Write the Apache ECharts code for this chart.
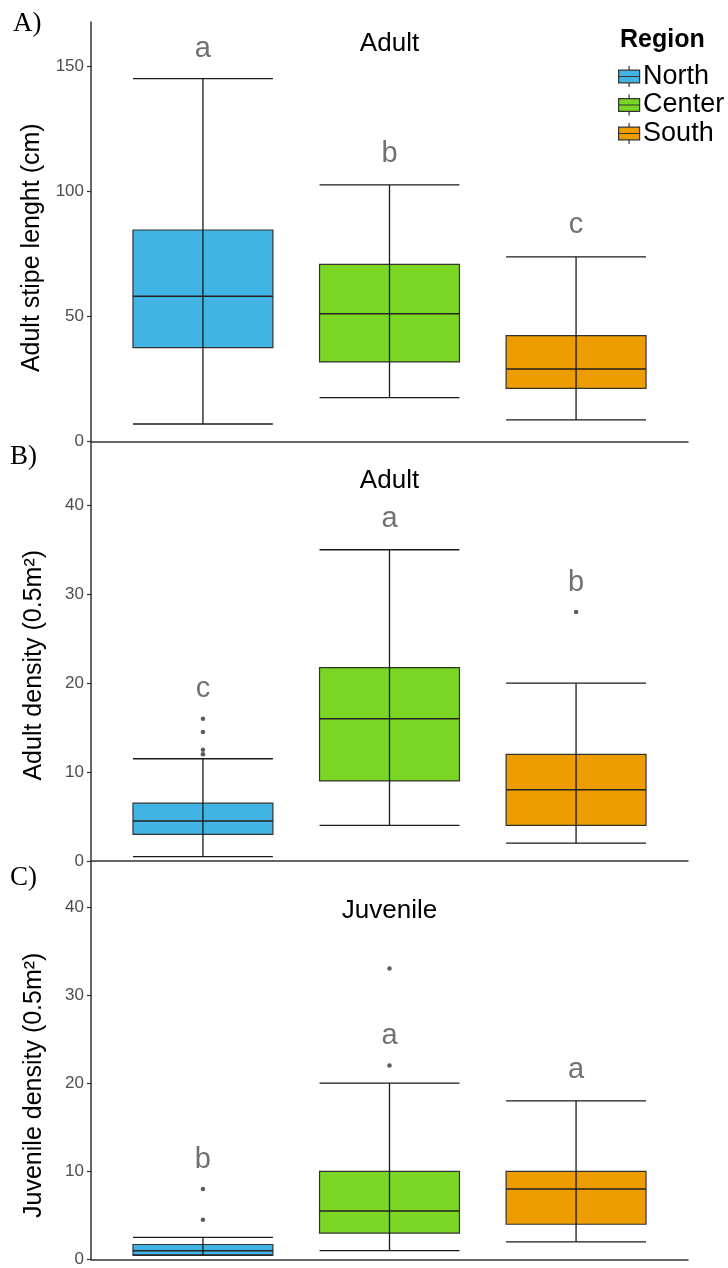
<!DOCTYPE html>
<html>
<head>
<meta charset="utf-8">
<script src="https://cdn.jsdelivr.net/npm/echarts@6/dist/echarts.min.js"></script>
<style>
html,body{margin:0;padding:0;background:#fff;}
#chart{width:728px;height:1268px;}
</style>
</head>
<body>
<div id="chart"></div>
<script>
// ---------- DATA ----------
const regions = ['North', 'Center', 'South'];
const regionX = [1, 2, 3];

// Panel A: Adult stipe length (cm)  [min, Q1, median, Q3, max]
const stipeNorth  = [7, 37.5, 58, 84.5, 145];
const stipeCenter = [17.5, 31.8, 51, 70.8, 102.5];
const stipeSouth  = [8.6, 21.2, 29, 42.3, 73.8];
const stipeOutNorth = [];
const stipeOutCenter = [];
const stipeOutSouth = [];
const stipeLetters = ['a', 'b', 'c'];
const stipeLetterY = [157, 115, 86.5];
const stipeTicks = [0, 50, 100, 150];

// Panel B: Adult density (0.5 m2)
const adultNorth  = [0.5, 3, 4.5, 6.5, 11.5];
const adultCenter = [4, 9, 16, 21.75, 35];
const adultSouth  = [2, 4, 8, 12, 20];
const adultOutNorth = [12, 12.5, 14.5, 16];
const adultOutCenter = [];
const adultOutSouth = [28];
const adultLetters = ['c', 'a', 'b'];
const adultLetterY = [19.3, 38.5, 31.3];
const adultTicks = [0, 10, 20, 30, 40];

// Panel C: Juvenile density (0.5 m2)
const juvNorth  = [0.5, 0.5, 1, 1.7, 2.5];
const juvCenter = [1, 3, 5.5, 10, 20];
const juvSouth  = [2, 4, 8, 10, 18];
const juvOutNorth = [4.5, 8];
const juvOutCenter = [22, 33];
const juvOutSouth = [];
const juvLetters = ['b', 'a', 'a'];
const juvLetterY = [11.3, 25.3, 21.5];
const juvTicks = [0, 10, 20, 30, 40];

// ---------- STYLE / LAYOUT ----------
const FONT = '"Liberation Sans", Arial, Helvetica, sans-serif';
const regionColors = ['#41B4E4', '#7AD622', '#EE9D00'];
const halfBox = 0.375;

const panels = [
  { tag: 'A)', title: 'Adult', yName: 'Adult stipe lenght (cm)', top: 22, height: 419.5, ymax: 167.6,
    boxes: [stipeNorth, stipeCenter, stipeSouth], outs: [stipeOutNorth, stipeOutCenter, stipeOutSouth],
    letters: stipeLetters, letterY: stipeLetterY, ticks: stipeTicks,
    tagTop: 10, titleTop: 31, namePad: [0, 32, 0, 0] },
  { tag: 'B)', title: 'Adult', yName: 'Adult density (0.5m\u00B2)', top: 441.5, height: 419.5, ymax: 47.17,
    boxes: [adultNorth, adultCenter, adultSouth], outs: [adultOutNorth, adultOutCenter, adultOutSouth],
    letters: adultLetters, letterY: adultLetterY, ticks: adultTicks,
    tagTop: 443, titleTop: 467.5, namePad: [0, 28, 0, 0] },
  { tag: 'C)', title: 'Juvenile', yName: 'Juvenile density (0.5m\u00B2)', top: 861, height: 402.5, ymax: 45.2,
    boxes: [juvNorth, juvCenter, juvSouth], outs: [juvOutNorth, juvOutCenter, juvOutSouth],
    letters: juvLetters, letterY: juvLetterY, ticks: juvTicks,
    tagTop: 864, titleTop: 898, namePad: [0, 50, 0, 0] }
];

function renderBox(params, api) {
  const x = api.value(0);
  const lo = api.value(1), q1 = api.value(2), md = api.value(3), q3 = api.value(4), hi = api.value(5);
  const tl = api.coord([x - halfBox, q3]);
  const br = api.coord([x + halfBox, q1]);
  const mL = api.coord([x - halfBox, md]);
  const mR = api.coord([x + halfBox, md]);
  const loL = api.coord([x - halfBox, lo]);
  const loR = api.coord([x + halfBox, lo]);
  const hiL = api.coord([x - halfBox, hi]);
  const hiR = api.coord([x + halfBox, hi]);
  const cLo = api.coord([x, lo]);
  const cHi = api.coord([x, hi]);
  const lineStyle = { stroke: '#1a1a1a', lineWidth: 1.3 };
  return {
    type: 'group',
    children: [
      { type: 'rect', shape: { x: tl[0], y: tl[1], width: br[0] - tl[0], height: br[1] - tl[1] },
        style: { fill: api.visual('color'), stroke: '#333', lineWidth: 1.2 } },
      { type: 'line', shape: { x1: mL[0], y1: mL[1], x2: mR[0], y2: mR[1] }, style: { stroke: '#222', lineWidth: 1.5 } },
      { type: 'line', shape: { x1: cLo[0], y1: cLo[1], x2: cHi[0], y2: cHi[1] }, style: lineStyle },
      { type: 'line', shape: { x1: loL[0], y1: loL[1], x2: loR[0], y2: loR[1] }, style: lineStyle },
      { type: 'line', shape: { x1: hiL[0], y1: hiL[1], x2: hiR[0], y2: hiR[1] }, style: lineStyle }
    ]
  };
}

const grid = [], xAxis = [], yAxis = [], series = [], titles = [];

panels.forEach(function (p, idx) {
  grid.push({ left: 91, right: 40, top: p.top, height: p.height, containLabel: false });
  xAxis.push({
    gridIndex: idx, type: 'value', min: 0.4, max: 3.6,
    axisLine: { show: true, onZero: false, lineStyle: { color: '#333', width: 1.5 } },
    axisTick: { show: false }, axisLabel: { show: false }, splitLine: { show: false }
  });
  yAxis.push({
    gridIndex: idx, type: 'value', min: 0, max: p.ymax,
    axisLine: { show: true, onZero: false, lineStyle: { color: '#333', width: 1.5 } },
    axisTick: { show: true, length: 4, lineStyle: { color: '#333', width: 1.2 }, customValues: p.ticks },
    axisLabel: { customValues: p.ticks, color: '#4d4d4d', fontSize: 17, margin: 7, fontFamily: FONT },
    splitLine: { show: false },
    name: p.yName, nameLocation: 'middle', nameGap: 44,
    nameTextStyle: { fontSize: 25, color: '#000', fontFamily: FONT, padding: p.namePad }
  });

  regions.forEach(function (r, i) {
    series.push({
      type: 'custom', name: r, xAxisIndex: idx, yAxisIndex: idx,
      itemStyle: { color: regionColors[i] },
      encode: { x: 0, y: [1, 2, 3, 4, 5] },
      renderItem: renderBox,
      data: [[regionX[i]].concat(p.boxes[i])],
      silent: true, z: 2
    });
  });
  regions.forEach(function (r, i) {
    if (p.outs[i].length) {
      series.push({
        type: 'scatter', name: r, xAxisIndex: idx, yAxisIndex: idx,
        symbolSize: 4.5, itemStyle: { color: '#333' },
        data: p.outs[i].map(function (v) { return [regionX[i], v]; }),
        silent: true, z: 3
      });
    }
  });
  series.push({
    type: 'scatter', xAxisIndex: idx, yAxisIndex: idx, symbolSize: 0,
    data: p.letterY.map(function (v, i) { return [regionX[i], v]; }),
    label: {
      show: true, position: 'inside', fontSize: 29, color: '#4d4d4d', fontFamily: FONT,
      formatter: function (prm) { return p.letters[prm.dataIndex]; }
    },
    silent: true, z: 4
  });

  titles.push({ text: p.tag, left: idx === 0 ? 13 : 10, top: p.tagTop, padding: 0,
    textStyle: { fontFamily: '"Liberation Serif", "Times New Roman", serif', fontWeight: 'normal', fontSize: 27, color: '#000' } });
  titles.push({ text: p.title, left: 389.5, textAlign: 'center', top: p.titleTop, padding: 0,
    textStyle: { fontFamily: FONT, fontWeight: 'normal', fontSize: 26, color: '#000' } });
});

titles.push({ text: 'Region', left: 620, top: 27.5, padding: 0,
  textStyle: { fontFamily: FONT, fontWeight: 'bold', fontSize: 25, color: '#000' } });

const chart = echarts.init(document.getElementById('chart'), null, { renderer: 'canvas' });
chart.setOption({
  animation: false,
  backgroundColor: '#fff',
  title: titles,
  legend: {
    data: regions, orient: 'vertical', left: 618, top: 63,
    itemWidth: 22, itemHeight: 21, itemGap: 1.5, padding: 0,
    icon: 'path://M0,4L20,4L20,16L0,16ZM0,10L20,10M10,0L10,4M10,16L10,20',
    itemStyle: { borderColor: '#333', borderWidth: 1.2 },
    textStyle: { fontSize: 27, color: '#000', fontFamily: FONT, padding: [0, 0, 0, -2] }
  },
  grid: grid,
  xAxis: xAxis,
  yAxis: yAxis,
  series: series
});
</script>
</body>
</html>
